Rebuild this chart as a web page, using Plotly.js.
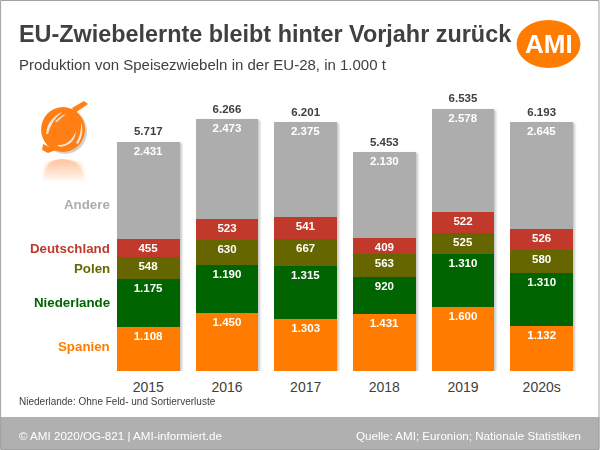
<!DOCTYPE html>
<html>
<head>
<meta charset="utf-8">
<script src="https://cdn.plot.ly/plotly-3.0.1.min.js"></script>
<style>
  html, body { margin: 0; padding: 0; background: #fff; }
  /* soft shadow along the right edge of the bars */
  .barlayer { filter: drop-shadow(2px 1px 1px rgba(120,120,120,0.4)); }
</style>
</head>
<body>
<div id="chart" style="width:600px;height:450px"></div>
<script>
const years = ['2015', '2016', '2017', '2018', '2019', '2020s'];
const spanien = [1108, 1450, 1303, 1431, 1600, 1132];
const niederlande = [1175, 1190, 1315, 920, 1310, 1310];
const polen = [548, 630, 667, 563, 525, 580];
const deutschland = [455, 523, 541, 409, 522, 526];
const andere = [2431, 2473, 2375, 2130, 2578, 2645];
const totals = [5717, 6266, 6201, 5453, 6535, 6193];

const FONT = 'Liberation Sans, Arial, sans-serif';
const TEXT_COLOR = '#404040';
const COLORS = {
  spanien: '#FF7C00',
  niederlande: '#006400',
  polen: '#666600',
  deutschland: '#C0392B',
  andere: '#ADADAD'
};

// Plot area in page pixels
const LEFT = 109, RIGHT = 581.5, TOP = 90, BOTTOM = 371;
const px = x => (x - LEFT) / (RIGHT - LEFT);
const py = y => (BOTTOM - y) / (BOTTOM - TOP);

function stack(name, values, color) {
  return {
    type: 'bar',
    name: name,
    x: years,
    y: values,
    marker: { color: color, line: { width: 0 } },
    texttemplate: '%{y:,.0f}',
    textposition: 'inside',
    insidetextanchor: 'end',
    textangle: 0,
    constraintext: 'none',
    insidetextfont: { family: FONT, size: 11.5, color: '#ffffff', weight: 'bold' },
    hoverinfo: 'x+y+name'
  };
}

const traces = [
  stack('Spanien', spanien, COLORS.spanien),
  stack('Niederlande', niederlande, COLORS.niederlande),
  stack('Polen', polen, COLORS.polen),
  stack('Deutschland', deutschland, COLORS.deutschland),
  stack('Andere', andere, COLORS.andere),
  {
    type: 'scatter',
    mode: 'markers+text',
    x: years,
    y: totals,
    marker: { size: 4, opacity: 0 }, // only lifts the labels off the bars
    texttemplate: '%{y:,.0f}',
    textposition: 'top center',
    textfont: { family: FONT, size: 11.5, color: TEXT_COLOR, weight: 'bold' },
    hoverinfo: 'skip'
  }
];

function label(text, x, y, opts) {
  return Object.assign({
    text: text,
    xref: 'paper', yref: 'paper',
    x: px(x), y: py(y),
    xanchor: 'left', yanchor: 'middle',
    showarrow: false,
    borderpad: 0,
    borderwidth: 0,
    font: { family: FONT, size: 12, color: TEXT_COLOR }
  }, opts);
}

function seriesLabel(text, y, color) {
  return label(text, 110.5, y, {
    xanchor: 'right',
    font: { family: FONT, size: 13.3, color: color, weight: 'bold' }
  });
}

const annotations = [
  label('Produktion von Speisezwiebeln in der EU-28, in 1.000 t', 19, 64, {
    font: { family: FONT, size: 15, color: TEXT_COLOR }
  }),
  label('AMI', 549, 44, {
    xanchor: 'center',
    font: { family: FONT, size: 26, color: '#ffffff', weight: 'bold' }
  }),
  seriesLabel('Andere', 204, COLORS.andere),
  seriesLabel('Deutschland', 248, COLORS.deutschland),
  seriesLabel('Polen', 268, COLORS.polen),
  seriesLabel('Niederlande', 302, COLORS.niederlande),
  seriesLabel('Spanien', 346, COLORS.spanien),
  label('Niederlande: Ohne Feld- und Sortierverluste', 19, 401, {
    font: { family: FONT, size: 10, color: TEXT_COLOR }
  }),
  label('© AMI 2020/OG-821 | AMI-informiert.de', 19, 435, {
    font: { family: FONT, size: 11.6, color: '#ffffff' }
  }),
  label('Quelle: AMI; Euronion; Nationale Statistiken', 581, 435, {
    xanchor: 'right',
    font: { family: FONT, size: 11.6, color: '#ffffff' }
  })
];

function paperShape(type, x0, y0, x1, y1, style) {
  return Object.assign({
    type: type, xref: 'paper', yref: 'paper',
    x0: px(x0), x1: px(x1), y0: py(y0), y1: py(y1),
    line: { width: 0 }, layer: 'below'
  }, style);
}

// Path given in page pixels, converted to paper fractions
function pathShape(points, style) {
  const d = points.map(p => {
    if (p.length === 1) return p[0];
    let out = p[0];
    for (let i = 1; i < p.length; i += 2) {
      out += ' ' + px(p[i]).toFixed(4) + ',' + py(p[i + 1]).toFixed(4);
    }
    return out;
  }).join(' ');
  return Object.assign({
    type: 'path', xref: 'paper', yref: 'paper', path: d, line: { width: 0 }, layer: 'below'
  }, style);
}

const ONION = '#FF7F14';
const STREAK = '#EFE6DC';

const onion = [
  // grey shadow behind the bulb
  paperShape('circle', 43, 109, 87, 154, { fillcolor: '#9A9A9A', opacity: 0.45 }),
  pathShape([['M', 72, 108], ['L', 84, 101], ['L', 88, 104], ['L', 75, 113], ['Z']], { fillcolor: ONION }),
  pathShape([['M', 43, 144], ['L', 42, 150], ['L', 48, 153], ['L', 56, 150], ['Z']], { fillcolor: ONION }),
  paperShape('circle', 41, 107, 85, 152, { fillcolor: ONION }),
  pathShape([['M', 46, 134], ['Q', 47, 119, 62, 112], ['Q', 51, 121, 48, 134], ['Z']], { fillcolor: STREAK }),
  pathShape([['M', 55, 122], ['Q', 59, 116, 66, 114], ['Q', 61, 118, 57, 122], ['Z']], { fillcolor: STREAK }),
  pathShape([['M', 57, 145], ['Q', 70, 146, 76, 131], ['Q', 75, 145, 60, 147], ['Z']], { fillcolor: STREAK }),
  pathShape([['M', 76, 143], ['Q', 82, 133, 81, 122], ['Q', 85, 133, 78, 144], ['Z']], { fillcolor: STREAK })
];

// Faded reflection under the bulb, nested caps get stronger towards the top
const reflection = [181, 179, 177, 175, 173, 171, 169, 167, 165, 163].map(bottom =>
  pathShape([
    ['M', 43, bottom],
    ['Q', 46, 160, 62, 159],
    ['Q', 80, 160, 85, bottom],
    ['Z']
  ], { fillcolor: ONION, opacity: 0.045 })
);

const shapes = [
  // footer band and outer frame
  paperShape('rect', 0, 417, 600, 449, { fillcolor: '#B0B0B0' }),
  paperShape('rect', 0.5, 0.5, 599.5, 449.5, { line: { color: '#A0A0A0', width: 1 } }),
  // AMI logo
  paperShape('circle', 517, 20, 581, 68, { fillcolor: '#FF7C00' }),
  ...onion,
  ...reflection
];

const layout = {
  width: 600,
  height: 450,
  barmode: 'stack',
  bargap: 0.2,
  showlegend: false,
  paper_bgcolor: '#ffffff',
  plot_bgcolor: 'rgba(0,0,0,0)',
  separators: ',.',
  margin: { l: LEFT, r: 600 - RIGHT, t: TOP, b: 450 - BOTTOM, pad: 0 },
  font: { family: FONT, color: TEXT_COLOR },
  title: {
    text: '<b>EU-Zwiebelernte bleibt hinter Vorjahr zurück</b>',
    font: { family: FONT, size: 23.4, color: TEXT_COLOR },
    x: 19 / 600, xref: 'container', xanchor: 'left',
    y: 1 - 34 / 450, yref: 'container', yanchor: 'middle'
  },
  xaxis: {
    type: 'category',
    showgrid: false,
    zeroline: false,
    showline: false,
    ticks: '',
    ticklabelstandoff: 6,
    tickfont: { family: FONT, size: 14, color: TEXT_COLOR }
  },
  yaxis: {
    range: [0, 7000],
    visible: false,
    showgrid: false,
    zeroline: false
  },
  shapes: shapes,
  annotations: annotations
};

Plotly.newPlot('chart', traces, layout, { displayModeBar: false, responsive: false });
</script>
</body>
</html>
